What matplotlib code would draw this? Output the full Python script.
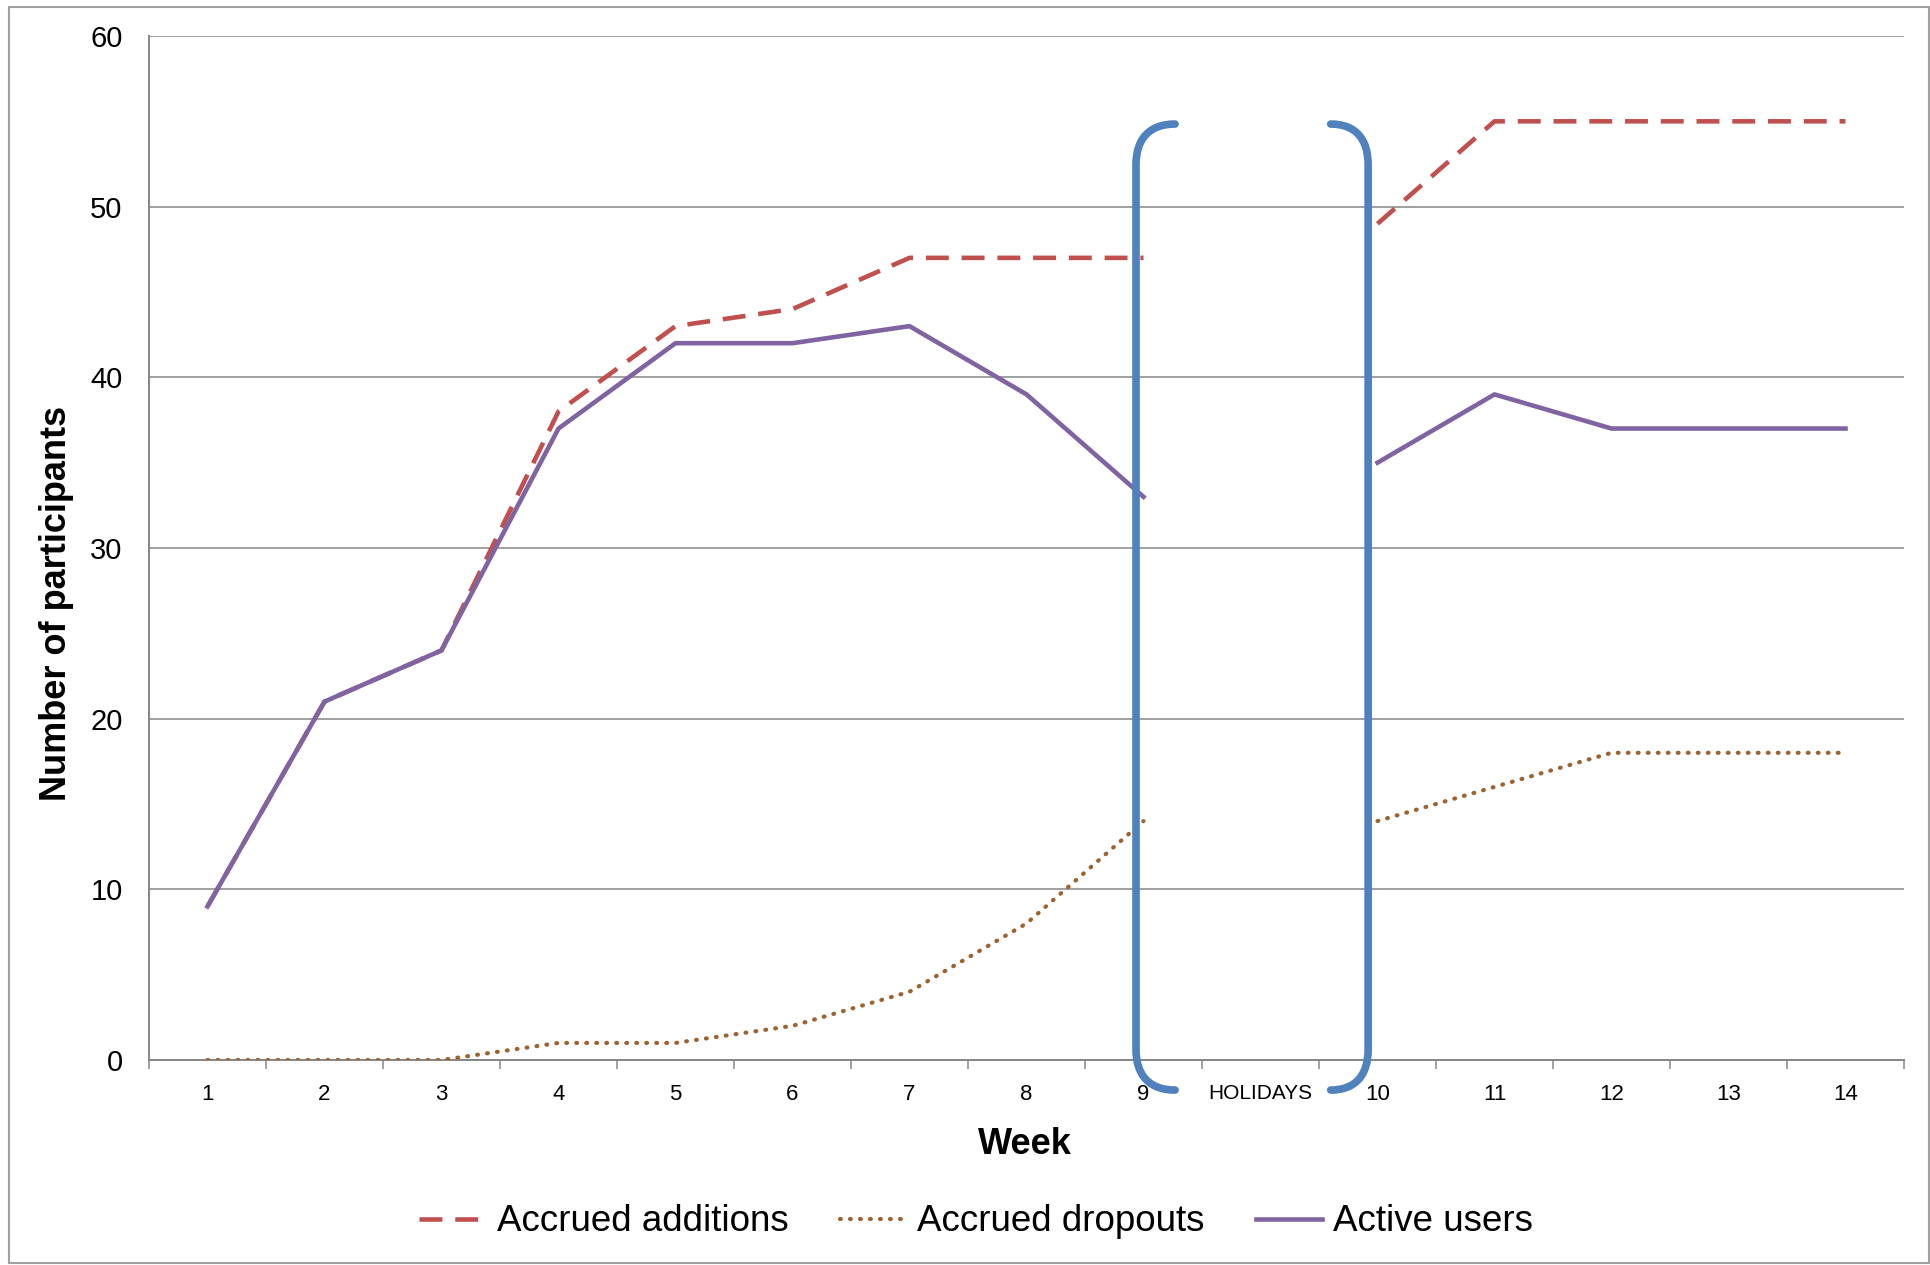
import matplotlib
matplotlib.use("Agg")
import matplotlib.pyplot as plt
import numpy as np
from matplotlib.path import Path
from matplotlib.patches import PathPatch, Rectangle

plt.rcParams['font.family'] = ['Liberation Sans', 'DejaVu Sans']

# data (nan = holiday gap)
weeks = ['1', '2', '3', '4', '5', '6', '7', '8', '9', 'HOLIDAYS',
         '10', '11', '12', '13', '14']
additions = [9, 21, 24, 38, 43, 44, 47, 47, 47, np.nan, 49, 55, 55, 55, 55]
dropouts = [0, 0, 0, 1, 1, 2, 4, 8, 14, np.nan, 14, 16, 18, 18, 18]
active = [9, 21, 24, 37, 42, 42, 43, 39, 33, np.nan, 35, 39, 37, 37, 37]

grey = '#868686'
x = np.arange(len(weeks))

fig = plt.figure(figsize=(19.31, 12.65), dpi=100)
ax = fig.add_axes([149 / 1931, 1 - 1060 / 1265, 1755 / 1931, 1024 / 1265])

l1, = ax.plot(x, additions, color='#C0504D', lw=3.3, dashes=(5.0, 2.8),
              label='Accrued additions', zorder=3)
l2, = ax.plot(x, dropouts, color='#9C6330', lw=3.0, dashes=(0.2, 2.2),
              dash_capstyle='round', label='Accrued dropouts', zorder=3)
l3, = ax.plot(x, active, color='#8064A2', lw=3.3, label='Active users', zorder=3)

# holiday brackets (cubic curves at the ends)
def bracket(xv, xe, top, bot, bend):
    verts = [(xe, top), (xv + 0.35 * (xe - xv), top), (xv, top - 0.35 * bend),
             (xv, top - bend), (xv, bot + bend),
             (xv, bot + 0.35 * bend), (xv + 0.35 * (xe - xv), bot), (xe, bot)]
    codes = [Path.MOVETO, Path.CURVE4, Path.CURVE4, Path.CURVE4,
             Path.LINETO, Path.CURVE4, Path.CURVE4, Path.CURVE4]
    return PathPatch(Path(verts, codes), fill=False, edgecolor='#4F81BD',
                     lw=5.5, capstyle='round', clip_on=False, zorder=5)

ax.add_patch(bracket(7.936, 8.27, 54.84, -1.76, 2.4))
ax.add_patch(bracket(9.92, 9.60, 54.84, -1.76, 2.4))

ax.set_xlim(-0.5, len(weeks) - 0.5)
ax.set_ylim(0, 60)
ax.set_yticks(range(0, 61, 10))
ax.yaxis.grid(True, color=grey, lw=1.1)
ax.set_axisbelow(True)
ax.set_xticks(x)
ax.set_xticklabels(weeks)
ax.set_xticks(np.arange(-0.5, len(weeks), 1), minor=True)
ax.tick_params(axis='x', which='major', length=0, pad=17, labelsize=16)
for lab in ax.get_xticklabels():
    if lab.get_text() == 'HOLIDAYS':
        lab.set_fontsize(15)
ax.tick_params(axis='x', which='minor', length=6.5, width=1.1, color=grey)
ax.tick_params(axis='y', length=0, pad=19, labelsize=21)
for s in ['top', 'right']:
    ax.spines[s].set_visible(False)
for s in ['left', 'bottom']:
    ax.spines[s].set_color(grey)
    ax.spines[s].set_linewidth(1.4)

fig.text(0.0295, 0.523, 'Number of participants', rotation=90, ha='center',
         va='center', fontsize=26, fontweight='bold')
fig.text(0.531, 0.0949, 'Week', ha='center', va='center', fontsize=26,
         fontweight='bold')

fig.legend(handles=[l1, l2, l3], loc='center', bbox_to_anchor=(0.5056, 0.034),
           ncol=3, frameon=False, fontsize=26.5, handlelength=1.8,
           handletextpad=0.3, columnspacing=1.4)

fig.patches.append(Rectangle((9 / 1931, 2 / 1265), 1920 / 1931, 1256 / 1265,
                             transform=fig.transFigure, fill=False,
                             edgecolor='#A0A0A0', lw=1.5))

fig.savefig('out.png', dpi=100)
